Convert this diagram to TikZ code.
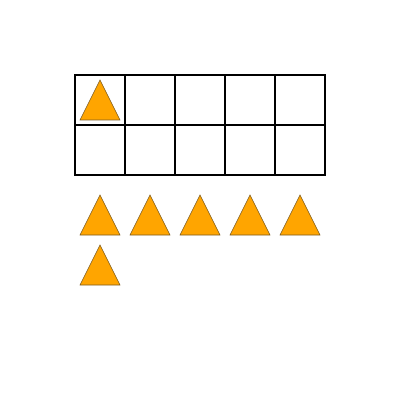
\documentclass[tikz,border=0pt]{standalone}
\usepackage{tikz}
\definecolor{tokenfill}{HTML}{FFA500}
\definecolor{tokenline}{HTML}{7A5A20}

\begin{document}
\begin{tikzpicture}[x=0.025cm,y=-0.025cm]
        \tikzset{
            cell/.style= {
                draw=black,
                line width=0.55mm
            },
            token/.style= {
                draw=tokenline,
                fill=tokenfill,
                line width=0.15mm,
                line join=miter
            },
        }
        \useasboundingbox (0,0) rectangle (400,400);
        %% grid
        \foreach \col in {0,...,4}
            \foreach \row in {0,1}
                \draw [cell] ({75+50*\col},{75+50*\row}) rectangle ++(50,50);
        %% token in the grid
        \draw [token] (100,80) -- (120,120) -- (80,120) -- cycle;
        %% tokens below
        \foreach \col in {0,...,4}
            \draw [token] ({100+50*\col},195) -- ++(20,40) -- ++(-40,0) -- cycle;
        \draw [token] (100,245) -- ++(20,40) -- ++(-40,0) -- cycle;
\end{tikzpicture}
\end{document}
